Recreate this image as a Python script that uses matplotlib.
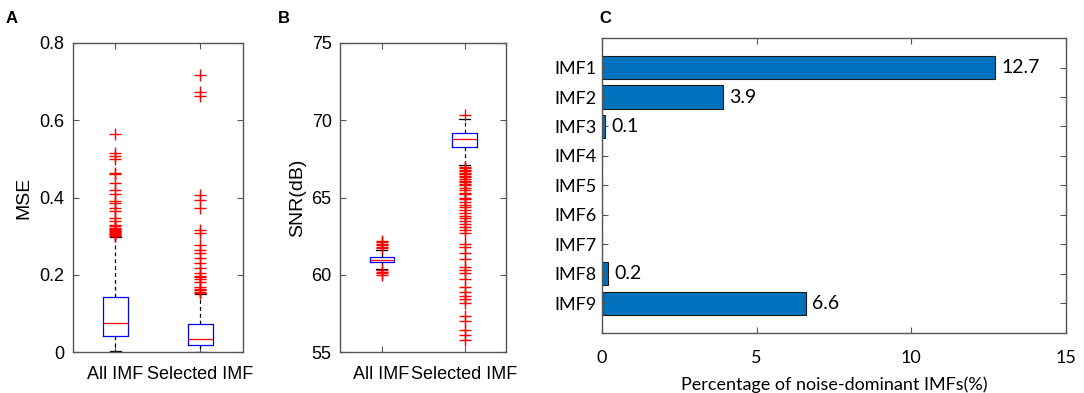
import matplotlib
matplotlib.use("Agg")
import matplotlib.pyplot as plt

# ---------------- data ----------------
box_labels = ["All IMF", "Selected IMF"]

# Panel A: MSE box statistics (whislo, q1, med, q3, whishi)
mse_all_stats = [0.002, 0.041, 0.076, 0.143, 0.299]
mse_sel_stats = [0.001, 0.018, 0.034, 0.0725, 0.149]
mse_all_fliers = [0.565, 0.515, 0.507, 0.500, 0.463, 0.460, 0.437, 0.420, 0.410,
                  0.390, 0.385, 0.372, 0.365, 0.346, 0.338, 0.330, 0.325, 0.320,
                  0.318, 0.315, 0.312, 0.310, 0.308, 0.305, 0.303, 0.301]
mse_sel_fliers = [0.718, 0.672, 0.662, 0.407, 0.394, 0.372, 0.316, 0.307, 0.277,
                  0.264, 0.256, 0.243, 0.230, 0.217, 0.204, 0.198, 0.193, 0.188,
                  0.182, 0.169, 0.164, 0.160, 0.156, 0.152]

# Panel B: SNR box statistics
snr_all_stats = [60.4, 60.82, 60.98, 61.15, 61.62]
snr_sel_stats = [67.1, 68.3, 68.77, 69.15, 70.1]
snr_all_fliers = [61.7, 61.8, 61.9, 62.0, 62.1, 62.2, 60.3, 60.2, 60.1, 60.0]
snr_sel_fliers = [70.35, 67.0, 66.9, 66.8, 66.7, 66.6, 66.5, 66.4, 66.3, 66.2, 66.1,
                  66.0, 65.9, 65.8, 65.6, 65.5, 65.3, 65.2, 65.0, 64.9, 64.7,
                  64.5, 64.4, 64.2, 64.0, 63.8, 63.7, 63.5, 63.3, 63.1, 62.9,
                  62.7, 62.0, 61.8, 61.4, 61.0, 60.5, 60.3, 60.1, 59.7, 59.2,
                  58.9, 58.6, 58.4, 58.15, 57.3, 57.0, 56.4, 56.1, 55.8]

# Panel C: percentage of noise-dominant IMFs
imf_names = ["IMF1", "IMF2", "IMF3", "IMF4", "IMF5", "IMF6", "IMF7", "IMF8", "IMF9"]
imf_pct = [12.7, 3.9, 0.1, 0.0, 0.0, 0.0, 0.0, 0.2, 6.6]

# ---------------- style ----------------
plt.rcParams['font.family'] = ['Liberation Sans', 'DejaVu Sans']
spine_col = '#555555'
calib = ['Lato', 'DejaVu Sans']

fig = plt.figure(figsize=(10.84, 3.93), dpi=100)


def make_stats(vals, fliers, label):
    lo, q1, med, q3, hi = vals
    return dict(whislo=lo, q1=q1, med=med, q3=q3, whishi=hi, fliers=fliers, label=label)


def style_axes(ax, fs=13):
    for s in ax.spines.values():
        s.set_color(spine_col)
        s.set_linewidth(1.0)
    ax.tick_params(direction='in', top=True, right=True, length=4,
                   color=spine_col, labelsize=fs, pad=6)


def draw_box(ax, stats, width):
    ax.bxp(stats, positions=[1, 2], widths=width, capwidths=0.13,
           boxprops=dict(color='blue', linewidth=0.9),
           medianprops=dict(color='red', linewidth=0.9),
           whiskerprops=dict(color='black', linestyle=(0, (3, 2.5)), linewidth=0.9),
           capprops=dict(color='black', linewidth=0.9),
           flierprops=dict(marker='+', markeredgecolor='red', markersize=8,
                           markeredgewidth=1.0, linestyle='none'))
    ax.set_xlim(0.5, 2.5)


# Panel A
axA = fig.add_axes([0.0673, 0.1043, 0.1568, 0.7863])
draw_box(axA, [make_stats(mse_all_stats, mse_all_fliers, box_labels[0]),
               make_stats(mse_sel_stats, mse_sel_fliers, box_labels[1])], 0.3)
axA.set_ylim(0, 0.8)
axA.set_yticks([0, 0.2, 0.4, 0.6, 0.8])
axA.set_yticklabels(["0", "0.2", "0.4", "0.6", "0.8"])
axA.set_ylabel("MSE", fontsize=14, labelpad=5)
style_axes(axA, 13)
axA.tick_params(axis='x', labelsize=13, pad=10)

# Panel B
axB = fig.add_axes([0.3137, 0.1043, 0.1531, 0.7863])
draw_box(axB, [make_stats(snr_all_stats, snr_all_fliers, box_labels[0]),
               make_stats(snr_sel_stats, snr_sel_fliers, box_labels[1])], 0.29)
axB.set_ylim(55, 75)
axB.set_yticks([55, 60, 65, 70, 75])
axB.set_ylabel("SNR(dB)", fontsize=14, labelpad=4)
style_axes(axB, 13)
axB.tick_params(axis='x', labelsize=13, pad=10)

# Panel C
axC = fig.add_axes([0.5554, 0.1527, 0.428, 0.7506])
ypos = list(range(1, len(imf_names) + 1))
axC.barh(ypos, imf_pct, height=0.78, color='#0072BD',
         edgecolor='#1a1a1a', linewidth=0.8)
for y, v in zip(ypos, imf_pct):
    if v > 0:
        axC.text(v + 0.2, y, f"{v:.1f}", va='center', ha='left', fontsize=14,
                 family=calib)
axC.set_ylim(10, 0)
axC.set_xlim(0, 15)
axC.set_yticks(ypos)
axC.set_yticklabels(imf_names)
axC.set_xticks([0, 5, 10, 15])
style_axes(axC, 13)
axC.tick_params(axis='x', pad=12)
axC.tick_params(axis='y', pad=4)
for lab in axC.get_xticklabels() + axC.get_yticklabels():
    lab.set_family(calib)
    lab.set_fontsize(13)
axC.set_xlabel("Percentage of noise-dominant IMFs(%)", fontsize=13,
               family=calib, labelpad=8)

# Panel letters
for x, letter in [(0.005, "A"), (0.256, "B"), (0.553, "C")]:
    fig.text(x, 0.972, letter, fontsize=12, fontweight='bold', va='top', ha='left',
             family=['Liberation Sans', 'DejaVu Sans'])

fig.savefig("out.png", dpi=100)
